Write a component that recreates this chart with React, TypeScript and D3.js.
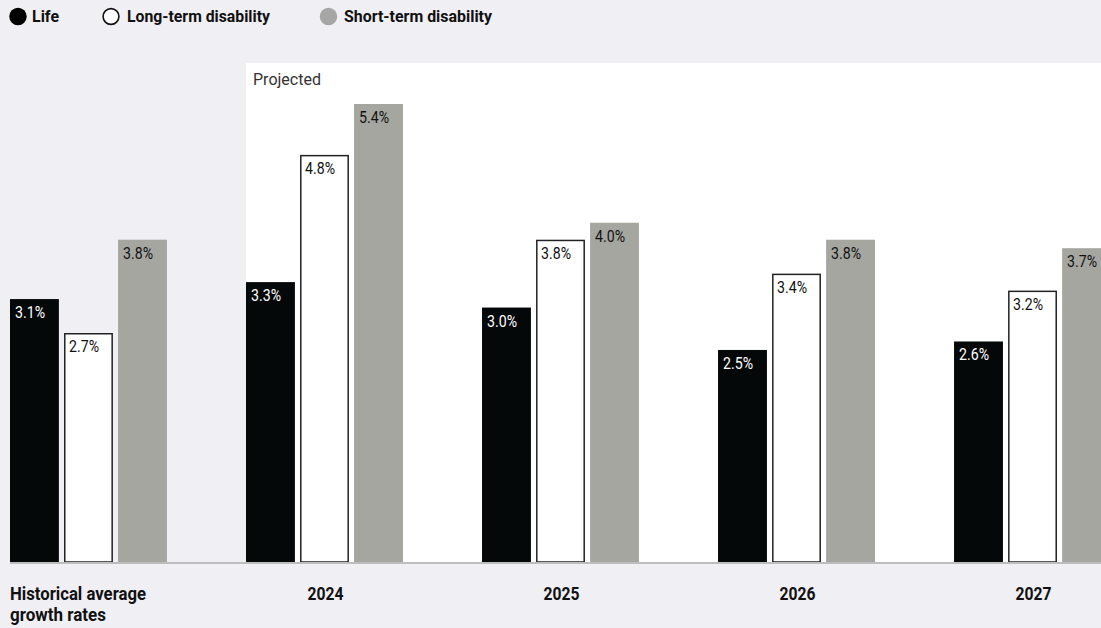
import React from "react";
import * as d3 from "d3";

const groups = ["Historical average growth rates", "2024", "2025", "2026", "2027"];
const groupLabels = [["Historical average", "growth rates"], ["2024"], ["2025"], ["2026"], ["2027"]];
const seriesNames = ["Life", "Long-term disability", "Short-term disability"];
const lifeValues = [3.1, 3.3, 3.0, 2.5, 2.6];
const ltdValues = [2.7, 4.8, 3.8, 3.4, 3.2];
const stdValues = [3.8, 5.4, 4.0, 3.8, 3.7];

const W = 1101;
const H = 628;
const FONT = "Roboto, 'DejaVu Sans Condensed', sans-serif";
const BG = "#f0eff4";
const fills = ["#040808", "#ffffff", "#a6a6a1"];
const textFills = ["#ffffff", "#111111", "#111111"];

// rendered text widths (condensed typeface look)
const legendWidths = [27, 143, 148];
const histLabelWidths = [136, 96];
const yearLabelWidth = 36;
const valueLabelWidth = 30;

export default function App() {
  const x0 = d3.scaleBand<string>().domain(groups).range([10, 1111]).paddingInner(0.335).paddingOuter(0);
  const x1 = d3.scaleBand<string>().domain(seriesNames).range([0, x0.bandwidth()]).paddingInner(0.095).paddingOuter(0);
  const y = d3.scaleLinear().domain([0, 5.4]).range([562, 104]);
  const seriesValues = [lifeValues, ltdValues, stdValues];
  const projX = x0(groups[1])!;

  return (
    <div>
      <style>{`body{margin:0;}`}</style>
      <svg width={W} height={H} style={{ display: "block", background: BG }}>
        <rect x={0} y={0} width={W} height={H} fill={BG} />
        <rect x={projX} y={63} width={W - projX} height={y(0) - 63} fill="#ffffff" />
        <text x={projX + 7} y={85} fontFamily={FONT} fontSize={17} fill="#333" textLength={68} lengthAdjust="spacingAndGlyphs">Projected</text>

        {groups.map((g, gi) =>
          seriesNames.map((s, si) => {
            const v = seriesValues[si][gi];
            const bx = x0(g)! + x1(s)!;
            const bw = x1.bandwidth();
            const top = y(v);
            const isWhite = si === 1;
            const label = `${v.toFixed(1)}%`;
            return (
              <g key={g + s}>
                <rect
                  x={isWhite ? bx + 0.75 : bx}
                  y={isWhite ? top + 0.75 : top}
                  width={isWhite ? bw - 1.5 : bw}
                  height={isWhite ? y(0) - top - 0.75 : y(0) - top}
                  fill={fills[si]}
                  stroke={isWhite ? "#222" : "none"}
                  strokeWidth={1.5}
                />
                <text x={bx + 5} y={top + 19} fontFamily={FONT} fontSize={17} fill={textFills[si]}
                  textLength={valueLabelWidth} lengthAdjust="spacingAndGlyphs">
                  {label}
                </text>
              </g>
            );
          })
        )}

        <line x1={10} x2={W} y1={y(0) + 1} y2={y(0) + 1} stroke="#bdbdbd" strokeWidth={2} />

        {groups.map((g, gi) => {
          const lines = groupLabels[gi];
          if (gi === 0) {
            return (
              <g key={g}>
                {lines.map((l, li) => (
                  <text key={l} x={10} y={600 + li * 21} fontFamily={FONT} fontSize={18} fontWeight="bold" fill="#111"
                    textLength={histLabelWidths[li]} lengthAdjust="spacingAndGlyphs">{l}</text>
                ))}
              </g>
            );
          }
          const cx = x0(g)! + x1(seriesNames[1])! + x1.bandwidth() / 2 + 1;
          return (
            <text key={g} x={cx - yearLabelWidth / 2} y={600} fontFamily={FONT} fontSize={18} fontWeight="bold" fill="#111"
              textLength={yearLabelWidth} lengthAdjust="spacingAndGlyphs">
              {lines[0]}
            </text>
          );
        })}

        {/* legend */}
        {[
          { cx: 18, tx: 32 },
          { cx: 111, tx: 127 },
          { cx: 328.5, tx: 344 },
        ].map((p, i) => (
          <g key={seriesNames[i]}>
            <circle
              cx={p.cx}
              cy={16.5}
              r={i === 1 ? 7.9 : 8.7}
              fill={i === 0 ? "#000" : i === 1 ? "#fff" : "#a6a6a6"}
              stroke={i === 1 ? "#111" : "none"}
              strokeWidth={1.6}
            />
            <text x={p.tx} y={22} fontFamily={FONT} fontSize={17} fontWeight="bold" fill="#111"
              textLength={legendWidths[i]} lengthAdjust="spacingAndGlyphs">
              {seriesNames[i]}
            </text>
          </g>
        ))}
      </svg>
    </div>
  );
}
